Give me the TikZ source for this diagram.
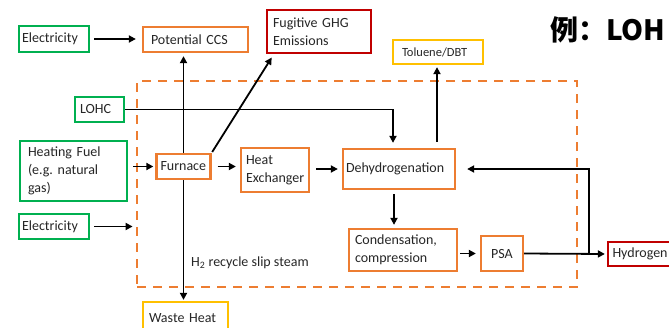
\documentclass[tikz,border=0pt]{standalone}
\usepackage{fontspec}
\setmainfont{Carlito}
\newfontfamily\cjk{Noto Sans CJK SC}
\usetikzlibrary{arrows.meta}
\definecolor{ingreen}{HTML}{00B050}
\definecolor{procorange}{HTML}{ED7D31}
\definecolor{outred}{HTML}{C00000}
\definecolor{outgold}{HTML}{FFC000}
\definecolor{txt}{HTML}{262626}

\begin{document}
\begin{tikzpicture}[x=1pt,y=-1pt,
  box/.style={draw, line width=2.3pt, fill=white, font=\fontsize{14}{18}\selectfont,
    text=txt, align=left, inner ysep=0pt},
  inbox/.style={box, draw=ingreen},
  procbox/.style={box, draw=procorange},
  outbox/.style={box, draw=outred},
  prodbox/.style={box, draw=outgold},
  arr/.style={line width=1.8pt, -{Triangle[length=7pt,width=7pt]}},
  sysbox/.style={draw=procorange, line width=2.8pt, dash pattern=on 9pt off 7pt,
    minimum width=440pt, minimum height=206pt, inner sep=0pt}
]
\useasboundingbox (0,0) rectangle (669,327);
\clip (0,0) rectangle (669,327);

% system boundary
\node[sysbox] (sys) at (357,184) {};

% inputs
\node[inbox, text width=64pt, inner xsep=3pt, minimum height=26pt] (elec1) at (54,39) {Electricity};
\node[inbox, text width=39pt, inner xsep=5pt, minimum height=25pt] (lohc) at (99.5,109.5) {LOHC};
\node[inbox, text width=91pt, inner xsep=8pt, minimum height=60pt] (hf) at (73.5,171) {Heating Fuel\\(e.g.\ natural\\gas)};
\node[inbox, text width=64pt, inner xsep=3pt, minimum height=25pt] (elec2) at (54,226.5) {Electricity};

% process units
\node[procbox, text width=89pt, inner xsep=8pt, minimum height=25pt] (ccs) at (195.5,39.5) {Potential CCS};
\node[procbox, text width=46pt, inner xsep=4pt, minimum height=25pt] (furn) at (183.5,166.5) {Furnace};
\node[procbox, text width=58pt, inner xsep=5pt, minimum height=44pt] (hx) at (275,170) {Heat\\Exchanger};
\node[procbox, text width=106pt, inner xsep=3pt, minimum height=40pt] (dehy) at (399,169) {Dehydrogenation};
\node[procbox, text width=96pt, inner xsep=6pt, minimum height=42pt] (cond) at (403,250) {Condensation,\\compression};
\node[procbox, text width=34pt, inner xsep=4pt, minimum height=35pt, align=center] (psa) at (502,253.5) {PSA};

% outputs
\node[outbox, text width=83pt, inner xsep=4.5pt, minimum height=24pt] (hyd) at (654,254) {Hydrogen};
\node[outbox, text width=92pt, inner xsep=6pt, minimum height=43pt] (fug) at (319,31.5) {Fugitive GHG\\Emissions};
\node[prodbox, text width=72pt, inner xsep=9pt, minimum height=24pt,
  font=\fontsize{12.5}{15}\selectfont] (tol) at (438,52) {Toluene/DBT};
\node[prodbox, text width=73pt, inner xsep=6pt, minimum height=33pt] (waste) at (185.5,318.5) {Waste Heat};

% heading
\node[anchor=base west, inner sep=0pt, font=\cjk\bfseries\fontsize{28}{30}\selectfont] (title) at (550,40) {例：LOH};

% slip stream label
\node[anchor=west, inner sep=0pt, font=\fontsize{14}{18}\selectfont, text=txt] (slip) at (191,263) {H\textsubscript{2} recycle slip steam};

% connection points
\coordinate (lohcdrop) at ([xshift=-6pt]dehy.north);
\coordinate (toltap) at ([xshift=38pt]dehy.north);
\coordinate (conddrop) at ([xshift=-5pt]dehy.south);
\coordinate (fugend) at ([xshift=8pt]fug.south west);
\coordinate (recyc) at (589,254);

% flows
\draw[arr, shorten <=4pt, shorten >=6pt] (elec1.east) -- (elec1.east -| ccs.west);
\draw[arr, shorten >=3pt] (furn.north) -- (furn.north |- ccs.south);
\draw[arr, shorten >=1pt] (furn.south) -- (furn.south |- waste.north);
\draw[arr, shorten <=1pt, shorten >=4pt] (furn.north east) -- (fugend);
\draw[arr, shorten >=5pt] (lohc.east) -| (lohcdrop);
\draw[arr, shorten <=5pt, shorten >=2pt] (hf.east |- furn.west) -- (furn.west);
\draw[arr, shorten <=4pt, shorten >=3pt] (elec2.east) -- (elec2.east -| sys.west);
\draw[arr, shorten <=6pt, shorten >=4pt] (furn.east) -- (furn.east -| hx.west);
\draw[arr, shorten <=6pt, shorten >=4pt] (hx.east |- dehy.west) -- (dehy.west);
\draw[arr, shorten <=6pt, shorten >=2pt] (toltap) -- (toltap |- tol.south);
\draw[arr, shorten <=4pt, shorten >=3pt] (conddrop) -- (conddrop |- cond.north);
\draw[arr, shorten <=2pt, shorten >=4pt] (psa.west -| cond.east) -- (psa.west);
\draw[arr, shorten >=2pt] (psa.east) -- (hyd.west);
\draw[arr, shorten >=11pt] (recyc) |- (dehy.east);
\end{tikzpicture}
\end{document}
